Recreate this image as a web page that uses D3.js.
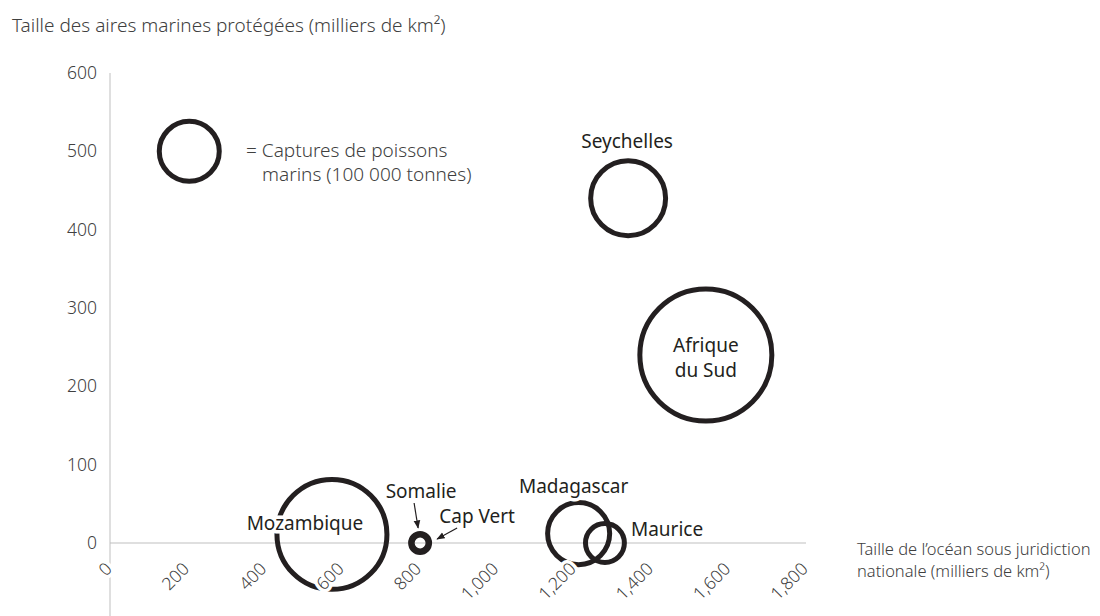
<!DOCTYPE html>
<html>
<head>
<meta charset="utf-8">
<script src="https://cdn.jsdelivr.net/npm/d3@7"></script>
<style>
  body { margin: 0; background: #fff; }
  svg { font-family: "Noto Sans", sans-serif; }
  .axis-text { fill: #404040; font-weight: 300; }
  .label { fill: #231f20; font-size: 19px; }
  .halo { paint-order: stroke; stroke: #fff; stroke-width: 7px; stroke-linejoin: round; }
</style>
</head>
<body>
<svg id="chart" width="1100" height="616"></svg>
<script>
// data
var countries = ["Seychelles", "Afrique du Sud", "Mozambique", "Madagascar", "Maurice", "Somalie", "Cap Vert"];
var oceanArea = [1340, 1541, 574, 1212, 1280, 802, 802];      // milliers de km2
var protectedArea = [440, 240, 11, 12, 0, 0, 0];               // milliers de km2
var fishCatch = [156, 484, 336, 107, 42, 10, 7];               // milliers de tonnes

var xTicks = [0, 200, 400, 600, 800, 1000, 1200, 1400, 1600, 1800];
var yTicks = [0, 100, 200, 300, 400, 500, 600];
var legendCatch = 100;

var svg = d3.select("#chart");

var x = d3.scaleLinear().domain([0, 1800]).range([110, 806]);
var y = d3.scaleLinear().domain([0, 600]).range([543, 73]);
var r = d3.scaleSqrt().domain([0, legendCatch]).range([0, 30]);

var fmt = d3.format(",");

var data = countries.map(function(c, i) {
  return { name: c, ocean: oceanArea[i], prot: protectedArea[i], fish: fishCatch[i] };
});

// label placement relative to the bubble centre
var labelPos = {
  "Seychelles":     { dx: -1,  dy: -50, anchor: "middle", lines: ["Seychelles"] },
  "Afrique du Sud": { dx: 0,   dy: -3,  anchor: "middle", lines: ["Afrique", "du Sud"] },
  "Mozambique":     { dx: -27, dy: -4,  anchor: "middle", lines: ["Mozambique"] },
  "Madagascar":     { dx: -5,  dy: -41, anchor: "middle", lines: ["Madagascar"] },
  "Maurice":        { dx: 26,  dy: -7,  anchor: "start",  lines: ["Maurice"] },
  "Somalie":        { dx: 1,   dy: -45, anchor: "middle", lines: ["Somalie"], arrow: [-6, -40, -2, -15] },
  "Cap Vert":       { dx: 57,  dy: -20, anchor: "middle", lines: ["Cap Vert"], arrow: [37, -15, 17, -4] }
};

svg.append("defs").append("marker")
    .attr("id", "head")
    .attr("viewBox", "0 0 10 10")
    .attr("refX", 9)
    .attr("refY", 5)
    .attr("markerWidth", 7)
    .attr("markerHeight", 7)
    .attr("orient", "auto")
  .append("path")
    .attr("d", "M0,1 L10,5 L0,9 z")
    .attr("fill", "#231f20");

// axes lines
svg.append("line")
    .attr("x1", x(0)).attr("x2", x(0))
    .attr("y1", y(600)).attr("y2", 616)
    .attr("stroke", "#bfbfbf");
svg.append("line")
    .attr("x1", x(0)).attr("x2", x(1800))
    .attr("y1", y(0)).attr("y2", y(0))
    .attr("stroke", "#bfbfbf");

// bubbles
svg.selectAll(".bubble")
    .data(data)
    .enter().append("circle")
    .attr("class", "bubble")
    .attr("cx", function(d) { return x(d.ocean); })
    .attr("cy", function(d) { return y(d.prot); })
    .attr("r", function(d) { return r(d.fish); })
    .attr("fill", "none")
    .attr("stroke", "#231f20")
    .attr("stroke-width", 5);

// legend bubble
svg.append("circle")
    .attr("cx", x(205))
    .attr("cy", y(500))
    .attr("r", r(legendCatch))
    .attr("fill", "none")
    .attr("stroke", "#231f20")
    .attr("stroke-width", 5);

var leg = svg.append("text")
    .attr("class", "axis-text")
    .attr("font-size", 19)
    .attr("fill", "#333");
leg.append("tspan").attr("x", 246).attr("y", 157).text("= Captures de poissons");
leg.append("tspan").attr("x", 262).attr("y", 181).text("marins (100 000 tonnes)");

// y tick labels
svg.selectAll(".ytick")
    .data(yTicks)
    .enter().append("text")
    .attr("class", "ytick axis-text")
    .attr("x", 97)
    .attr("y", function(d) { return y(d); })
    .attr("dy", "0.35em")
    .attr("text-anchor", "end")
    .attr("font-size", 17.5)
    .text(function(d) { return d; });

// x tick labels, rotated
svg.selectAll(".xtick")
    .data(xTicks)
    .enter().append("text")
    .attr("class", "xtick axis-text halo")
    .attr("transform", function(d) { return "translate(" + (x(d) + 3) + ",570) rotate(-45)"; })
    .attr("text-anchor", "end")
    .attr("font-size", 17.5)
    .text(function(d) { return fmt(d); });

// country labels
var lab = svg.selectAll(".label")
    .data(data)
    .enter().append("text")
    .attr("class", "label halo")
    .attr("text-anchor", function(d) { return labelPos[d.name].anchor; });

lab.selectAll("tspan")
    .data(function(d) {
      var p = labelPos[d.name];
      return p.lines.map(function(t, i) {
        return { t: t, x: x(d.ocean) + p.dx, y: y(d.prot) + p.dy + i * 25 };
      });
    })
    .enter().append("tspan")
    .attr("x", function(d) { return d.x; })
    .attr("y", function(d) { return d.y; })
    .text(function(d) { return d.t; });

// arrows for the small bubbles
svg.selectAll(".arrow")
    .data(data.filter(function(d) { return labelPos[d.name].arrow; }))
    .enter().append("line")
    .attr("class", "arrow")
    .attr("x1", function(d) { return x(d.ocean) + labelPos[d.name].arrow[0]; })
    .attr("y1", function(d) { return y(d.prot) + labelPos[d.name].arrow[1]; })
    .attr("x2", function(d) { return x(d.ocean) + labelPos[d.name].arrow[2]; })
    .attr("y2", function(d) { return y(d.prot) + labelPos[d.name].arrow[3]; })
    .attr("stroke", "#231f20")
    .attr("stroke-width", 1.2)
    .attr("marker-end", "url(#head)");

// axis titles
svg.append("text")
    .attr("class", "axis-text")
    .attr("x", 12)
    .attr("y", 32)
    .attr("font-size", 19)
    .text("Taille des aires marines protégées (milliers de km²)");

var xt = svg.append("text")
    .attr("class", "axis-text")
    .attr("font-size", 16.5);
xt.append("tspan").attr("x", 857).attr("y", 555).text("Taille de l’océan sous juridiction");
xt.append("tspan").attr("x", 857).attr("y", 577).text("nationale (milliers de km²)");
</script>
</body>
</html>
